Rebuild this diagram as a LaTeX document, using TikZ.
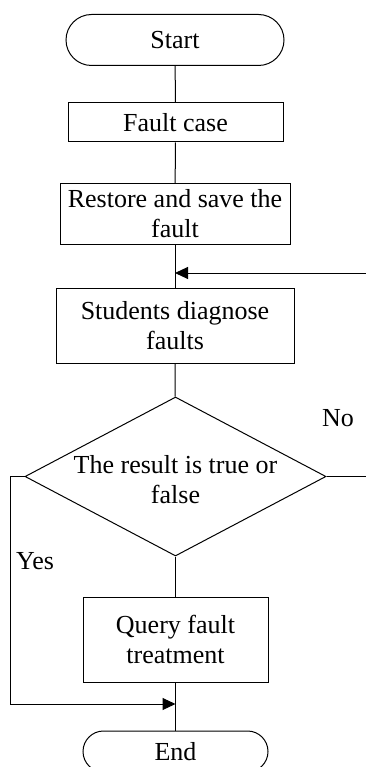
\documentclass[tikz,border=0pt]{standalone}
\usepackage{fontspec}
\setmainfont{Liberation Serif}
\usetikzlibrary{shapes.geometric,shapes.misc,arrows.meta}
\begin{document}
\begin{tikzpicture}[x=1pt,y=-1pt,
  every node/.style={font=\fontsize{26}{30}\selectfont},
  flow/.style={line width=1pt},
  proc/.style={draw,line width=1pt,rectangle,inner sep=0pt,align=center},
  term/.style={draw,line width=1pt,rounded rectangle,inner sep=0pt,align=center},
  txt/.style={inner sep=0pt,align=center},
  arr/.style={line width=1pt,-{Triangle[length=13pt,width=12pt]}}]
\useasboundingbox (0,0) rectangle (366,767);
\clip (0,0) rectangle (366,767);
\node[term,minimum width=218pt,minimum height=51pt] (start) at (175,40) {Start};
\node[proc,minimum width=215pt,minimum height=39pt] (fault) at (175.5,122.5) {Fault case};
\node[proc,minimum width=230pt,minimum height=60pt] (restore) at (175,214) {Restore and save the\\fault};
\node[proc,minimum width=238pt,minimum height=75pt] (students) at (175,325.5) {Students diagnose\\faults};
\node[draw,line width=1pt,diamond,inner sep=0pt,minimum width=301pt,minimum height=159pt] (dec) at (175.5,476.5) {};
\node[txt] (dectxt) at (175.5,480) {The result is true or\\false};
\node[proc,minimum width=185pt,minimum height=85pt] (query) at (175.5,639.5) {Query fault\\treatment};
\node[term,minimum width=185pt,minimum height=41pt] (end) at (175.5,751.5) {End};
\node[txt] (no) at (338,418) {No};
\node[txt] (yes) at (35,561) {Yes};
\coordinate (rin) at (366,273);
\coordinate (merge) at (175,273);
\coordinate (rout) at (366,476.5);
\coordinate (lcorner) at (10,476.5);
\coordinate (lbottom) at (10,704);
\coordinate (join) at (175.5,704);
\draw[flow] (start) -- (fault);
\draw[flow] (fault) -- (restore);
\draw[flow] (restore) -- (students);
\draw[arr] (rin) -- (merge);
\draw[flow] (students) -- (dec);
\draw[flow] (dec.east) -- (rout);
\draw[flow] (dec) -- (query);
\draw[flow] (query) -- (end);
\draw[flow] (dec.west) -- (lcorner) -- (lbottom);
\draw[arr] (lbottom) -- (join);
\end{tikzpicture}
\end{document}
